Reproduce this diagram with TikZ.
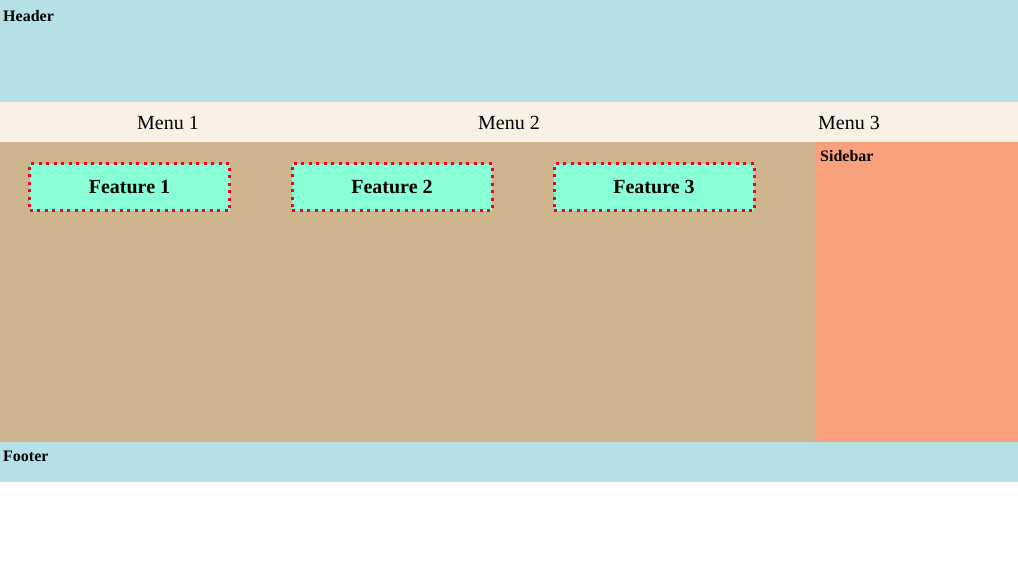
\documentclass[tikz,border=0pt]{standalone}
\usepackage{fontspec}
\setmainfont{Liberation Serif}
\usepackage{xcolor}
\definecolor{powder}{HTML}{B4E0E6}
\definecolor{linenbg}{HTML}{FAF0E6}
\definecolor{tanbg}{HTML}{CFB58E}
\definecolor{salmon}{HTML}{F9A17C}
\definecolor{aqua}{HTML}{88FFD4}
\definecolor{dotred}{HTML}{F2002A}
\tikzset{region/.style={rectangle, inner sep=0, outer sep=0, draw=none}}
\tikzset{label/.style={anchor=base west, inner sep=0, font=\fontsize{16}{19}\selectfont\bfseries}}
\tikzset{menuitem/.style={anchor=base, inner sep=0, font=\fontsize{20}{24}\selectfont}}
\tikzset{feature/.style={rectangle, inner sep=0, fill=aqua,
minimum width=200pt, minimum height=47pt,
draw=dotred, line width=3pt, dash pattern=on 3pt off 4.5pt,
font=\fontsize{20}{24}\selectfont\bfseries}}

\begin{document}
\begin{tikzpicture}[x=1pt, y=-1pt]
\useasboundingbox (0,0) rectangle (1018,574);

\node[region,
minimum width = 1018pt,
minimum height = 102pt,
fill=powder] (header) at (509,51) {};

\node[region,
minimum width = 1018pt,
minimum height = 40pt,
fill=linenbg] (menu) at (509,122) {};

\node[region,
minimum width = 815pt,
minimum height = 300pt,
fill=tanbg] (main) at (407.5,292) {};

\node[region,
minimum width = 203pt,
minimum height = 300pt,
fill=salmon] (sidebar) at (916.5,292) {};

\node[region,
minimum width = 1018pt,
minimum height = 40pt,
fill=powder] (footer) at (509,462) {};

\node[label] (th) at (3,21) {Header};
\node[label] (ts) at (820,161) {Sidebar};
\node[label] (tf) at (3,461) {Footer};

\node[menuitem] (m1) at (168,129) {Menu 1};
\node[menuitem] (m2) at (509,129) {Menu 2};
\node[menuitem] (m3) at (849,129) {Menu 3};

\node[feature] (f1) at (129.5,187) {Feature 1};
\node[feature] (f2) at (392,187) {Feature 2};
\node[feature] (f3) at (654,187) {Feature 3};

\end{tikzpicture}
\end{document}
